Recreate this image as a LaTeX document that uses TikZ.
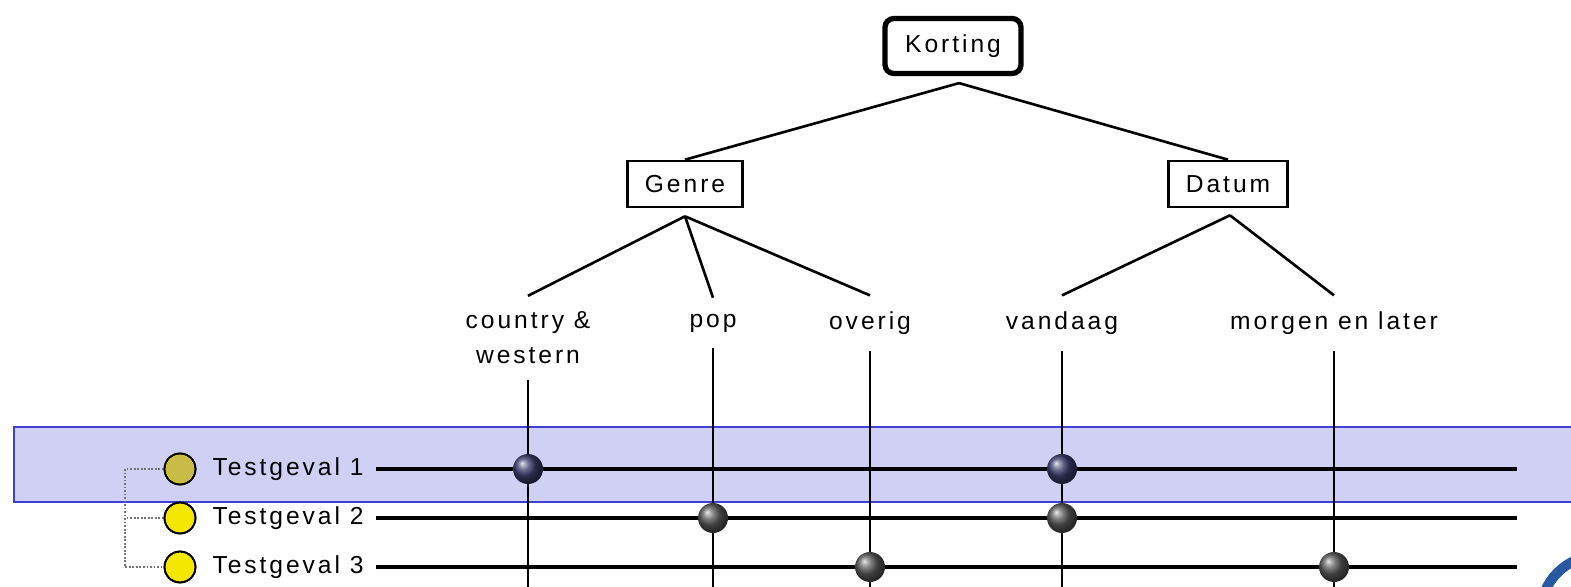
\documentclass[tikz,border=0pt]{standalone}
\usepackage{fontspec}
\setmainfont{Liberation Sans}[LetterSpace=12]
\usepackage{tikz}
\usetikzlibrary{positioning, calc}

\definecolor{bandfill}{RGB}{208,208,244}
\definecolor{bandline}{RGB}{64,64,210}
\definecolor{tcyellow}{RGB}{245,232,0}
\definecolor{tcolive}{RGB}{200,188,70}
\definecolor{logoblue}{RGB}{40,88,160}

\newcommand{\diagfont}{\fontsize{14}{19.8}\selectfont}

\begin{document}
\begin{tikzpicture}[x=0.02cm, y=-0.02cm,
    rootbox/.style={rectangle, draw=black, line width=3pt, rounded corners=5pt,
                    minimum width=2.72cm, minimum height=1.1cm, font=\diagfont},
    factor/.style={rectangle, draw=black, line width=1.5pt, minimum height=0.92cm,
                   inner xsep=10pt, font=\diagfont},
    leaf/.style={align=center, inner xsep=0pt, inner ysep=9pt, font=\diagfont},
    edge/.style={line width=1.5pt},
    colline/.style={line width=1.5pt},
    rowline/.style={line width=1.8pt},
    tcase/.style={circle, draw=black, line width=1pt, fill=tcyellow, minimum size=0.62cm, inner sep=0pt},
    tlabel/.style={inner xsep=7pt, font=\diagfont},
    hit/.style={circle, minimum size=0.6cm, inner sep=0pt, shading=ball},
    treeline/.style={densely dotted, line width=1pt, black!55}
]
    \useasboundingbox (0,0) rectangle (1571,587);

    % === selected row ===
    \draw[fill=bandfill, draw=bandline, line width=1.3pt] (14,427) rectangle (1600,502);

    % === classification tree ===
    \node[rootbox] (korting) at (953,46) {Korting};
    \node[factor] (genre) at (685,184) {Genre};
    \node[factor] (datum) at (1228,184) {Datum};

    \node[leaf] (cw) at (528,338) {country \&\\western};
    \node[leaf] (pop) at (713,323) {pop};
    \node[leaf] (overig) at (870,323) {overig};
    \node[leaf] (vandaag) at (1062,323) {vandaag};
    \node[leaf] (morgen) at (1334,323) {morgen en later};

    \coordinate (korting-b) at ($(korting.south)+(6,7)$);
    \coordinate (genre-b) at ($(genre.south)+(0,8)$);
    \coordinate (datum-b) at ($(datum.south)+(2,7)$);

    \draw[edge] (korting-b) -- (genre.north);
    \draw[edge] (korting-b) -- (datum.north);
    \foreach \leaf in {cw, pop, overig}
        \draw[edge] (genre-b) -- (\leaf.north);
    \foreach \leaf in {vandaag, morgen}
        \draw[edge] (datum-b) -- (\leaf.north);

    % === columns ===
    \coordinate (bottom) at (0,600);
    \foreach \leaf in {cw, pop, overig, vandaag, morgen}
        \draw[colline] (\leaf.south) -- (\leaf |- bottom);

    % === test cases ===
    \coordinate (tree-x) at (125,0);
    \coordinate (row-end) at (1517,0);
    \foreach \i/\y in {1/469, 2/518, 3/567} {
        \node[tcase] (c\i) at (180,\y) {};
        \node[tlabel, right=2pt of c\i] (tg\i) {Testgeval \i};
        \draw[rowline] (tg\i.east) -- (tg\i -| row-end);
    }
    \fill[tcolive] (c1) circle (0.28cm);
    \draw[treeline] (c1.west) -- (c1 -| tree-x) -- (c3 -| tree-x) -- (c3.west);
    \draw[treeline] (c2.west) -- (c2 -| tree-x);
    \foreach \i in {1,2,3}
        \node[tcase, fill=none] (c\i-rim) at (c\i) {};

    % === marks ===
    \foreach \leaf/\i/\col in {cw/1/{rgb,255:red,60;green,60;blue,110}, vandaag/1/{rgb,255:red,60;green,60;blue,110},
                               pop/2/black!65, vandaag/2/black!65,
                               overig/3/black!65, morgen/3/black!65}
        \node[hit, ball color=\col] (h-\leaf-\i) at (\leaf |- c\i) {};

    % === logo corner ===
    \draw[logoblue, line width=0.2cm] (1540,615) arc[start angle=180, end angle=270, radius=60];

\end{tikzpicture}
\end{document}
